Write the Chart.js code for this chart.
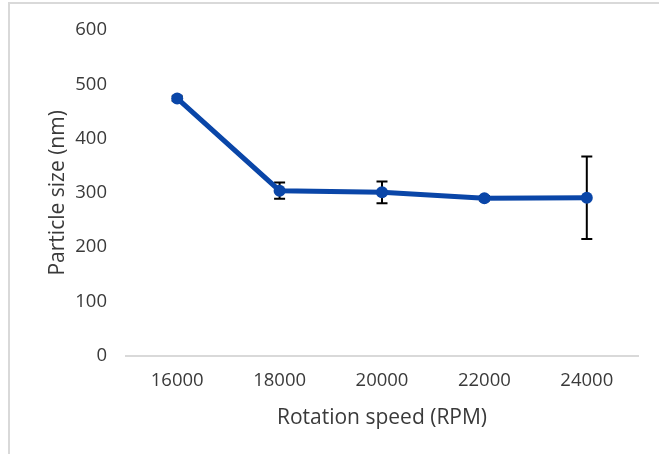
<!DOCTYPE html>
<html>
<head>
<meta charset="utf-8">
<script src="https://cdn.jsdelivr.net/npm/chart.js@4/dist/chart.umd.min.js"></script>
<style>
  html, body { margin: 0; padding: 0; background: #fff; }
  #wrap { position: relative; width: 659px; height: 454px; overflow: hidden; }
  #frame { position: absolute; left: 8px; top: 2px; width: 700px; height: 500px;
           border-left: 2px solid #d9d9d9; border-top: 2px solid #d9d9d9; box-sizing: border-box; }
  canvas { position: absolute; left: 0; top: 0; }
</style>
</head>
<body>
<div id="wrap">
  <div id="frame"></div>
  <canvas id="c" width="659" height="454"></canvas>
</div>
<script>
const categories = ["16000", "18000", "20000", "22000", "24000"];
const particleSize = [474, 304, 301, 290, 291];
const errorValues = [4, 15, 20, 4, 76];
const yTicks = [0, 100, 200, 300, 400, 500, 600];

const errorBarPlugin = {
  id: 'errorBars',
  beforeDatasetsDraw(chart) {
    const ctx = chart.ctx;
    const meta = chart.getDatasetMeta(0);
    const yScale = chart.scales.y;
    ctx.save();
    ctx.strokeStyle = '#000000';
    ctx.lineWidth = 2;
    meta.data.forEach((pt, i) => {
      const v = particleSize[i], e = errorValues[i];
      const x = pt.x;
      const yTop = yScale.getPixelForValue(v + e);
      const yBot = yScale.getPixelForValue(v - e);
      const cap = 5.5;
      ctx.beginPath();
      ctx.moveTo(x, yTop); ctx.lineTo(x, yBot);
      ctx.moveTo(x - cap, yTop); ctx.lineTo(x + cap, yTop);
      ctx.moveTo(x - cap, yBot); ctx.lineTo(x + cap, yBot);
      ctx.stroke();
    });
    ctx.restore();
  }
};

const tickFont = { family: "'Open Sans', sans-serif", size: 18.5 };
const titleFont = { family: "'Open Sans', sans-serif", size: 21 };
const textColor = '#3a3a3a';

new Chart(document.getElementById('c'), {
  type: 'line',
  data: {
    labels: categories,
    datasets: [{
      data: particleSize,
      borderColor: '#0a46a8',
      backgroundColor: '#0a46a8',
      borderWidth: 5,
      pointRadius: 6,
      pointHoverRadius: 6,
      pointBackgroundColor: '#0a46a8',
      pointBorderWidth: 0,
      tension: 0,
      fill: false
    }]
  },
  options: {
    responsive: false,
    animation: false,
    devicePixelRatio: 1,
    layout: { padding: { left: 41, top: 26, right: 21, bottom: 23 } },
    plugins: { legend: { display: false }, tooltip: { enabled: false } },
    scales: {
      x: {
        type: 'category',
        offset: true,
        grid: { display: false, drawTicks: false },
        border: { display: true, color: '#d9d9d9', width: 2 },
        ticks: { font: tickFont, color: textColor, padding: 14, maxRotation: 0 },
        title: { display: true, text: 'Rotation speed (RPM)', font: titleFont, color: textColor, padding: { top: 0, bottom: 0 } }
      },
      y: {
        min: 0,
        max: 600,
        afterBuildTicks(scale) { scale.ticks = yTicks.map(v => ({ value: v })); },
        afterFit(scale) { scale.width = 85; },
        grid: { display: false, drawTicks: false },
        border: { display: false },
        ticks: { font: tickFont, color: textColor, padding: 19 },
        title: { display: true, text: 'Particle size (nm)', font: titleFont, color: textColor }
      }
    }
  },
  plugins: [errorBarPlugin]
});
</script>
</body>
</html>
